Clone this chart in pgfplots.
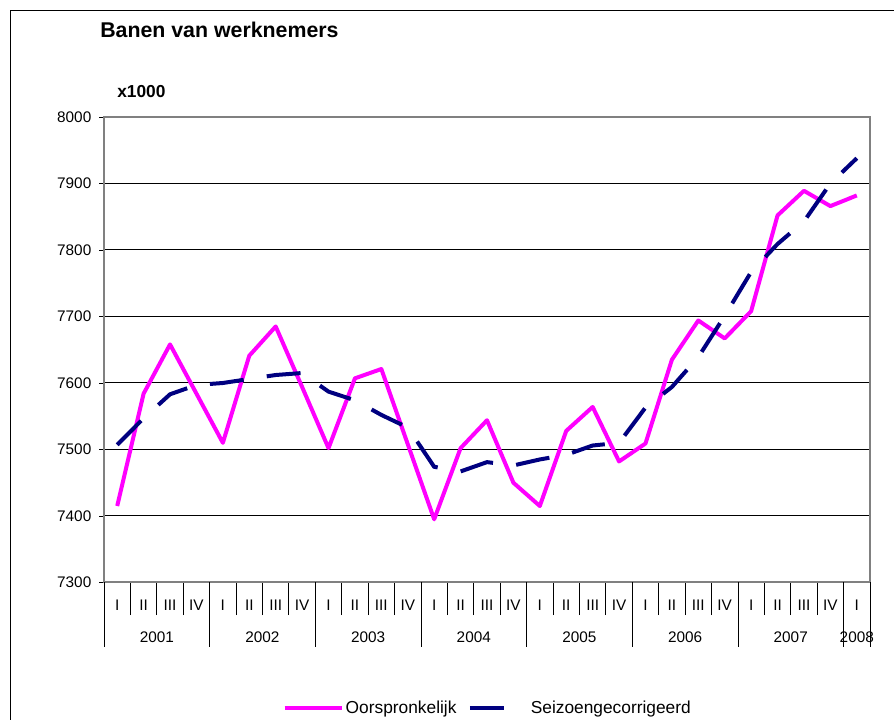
\documentclass[border=0pt]{standalone}
\usepackage{fontspec}
\setmainfont{Liberation Sans}
\usepackage{pgfplots}
\usepackage{pgfplotstable}
\pgfplotsset{compat=1.18}
\definecolor{pinkline}{HTML}{FF00FF}
\definecolor{navyline}{HTML}{000080}
\definecolor{framegray}{HTML}{808080}

\pgfplotstableread{
idx orig seas
0 7415 7507
1 7584 7547
2 7658 7583
3 7584 7597
4 7510 7600
5 7641 7606
6 7685 7612
7 7594 7615
8 7502 7587
9 7607 7574
10 7621 7552
11 7508 7533
12 7395 7474
13 7502 7467
14 7544 7481
15 7450 7476
16 7415 7485
17 7528 7492
18 7564 7506
19 7482 7510
20 7509 7563
21 7635 7594
22 7694 7639
23 7667 7701
24 7708 7767
25 7852 7809
26 7889 7843
27 7866 7900
28 7882 7938
}\datatable

\begin{document}
\begin{tikzpicture}
\useasboundingbox (0pt,0pt) rectangle (670.5pt,540pt);
\begin{scope}[x=0.75pt,y=0.75pt]
\draw[black, line width=0.75pt] (10,-10) -- (10,709) -- (910,709);
\node[anchor=west, font=\bfseries\fontsize{16}{19}\selectfont, inner sep=0pt] at (100,690) {Banen van werknemers};
\node[anchor=west, font=\bfseries\fontsize{13}{15}\selectfont, inner sep=0pt] at (117,628.5) {x1000};
\end{scope}
\begin{axis}[
  at={(78pt,103.125pt)}, anchor=south west, scale only axis,
  width=574.5pt, height=349.125pt,
  xmin=-0.5, xmax=28.5, ymin=7300, ymax=8000,
  clip=false,
  ytick={7300,7400,...,8000},
  ymajorgrids, grid style={black, line width=0.75pt},
  axis line style={framegray, line width=1.5pt},
  tick align=outside,
  xtick pos=bottom, ytick pos=left,
  major tick length=3.75pt,
  minor tick length=24.4pt,
  tick style={black, line width=0.6pt},
  every major x tick/.append style={draw=none},
  xtick={0,...,28},
  xticklabels={I,II,III,IV,I,II,III,IV,I,II,III,IV,I,II,III,IV,I,II,III,IV,I,II,III,IV,I,II,III,IV,I},
  minor xtick={-0.5,0.5,...,28.5},
  xticklabel style={anchor=center, yshift=-13pt},
  yticklabel style={xshift=-2.25pt},
  tick label style={font=\fontsize{11.5}{13}\selectfont},
  /pgf/number format/assume math mode=true,
  /pgf/number format/1000 sep={},
  legend style={at={(0.501,-0.2696)}, anchor=center, draw=none, fill=none,
    legend columns=2, font=\fontsize{13}{15}\selectfont,
    /tikz/every even column/.append style={column sep=7pt},
    nodes={inner sep=1.5pt}},
  legend image code/.code={\draw[#1] (0pt,0pt) -- (42.75pt,0pt);},
]
\addplot[pinkline, line width=3pt, line join=round] table[x=idx, y=orig] {\datatable};
\addlegendentry{Oorspronkelijk}
\addplot[navyline, line width=3pt, dash pattern=on 25.5pt off 17.5pt] table[x=idx, y=seas] {\datatable};
\addlegendentry{Seizoengecorrigeerd}
\pgfplotsinvokeforeach{-0.5,3.5,7.5,11.5,15.5,19.5,23.5,27.5,28.5}{
  \draw[black, line width=0.6pt] (axis cs:#1,7300) -- ++(0pt,-48.4pt);
}
\pgfplotsinvokeforeach{2001,2002,2003,2004,2005,2006,2007}{
  \node[font=\fontsize{11.5}{13}\selectfont] at (axis cs:{(#1-2001)*4+1.5},7300) [yshift=-40.9pt] {#1};
}
\node[font=\fontsize{11.5}{13}\selectfont] at (axis cs:28,7300) [yshift=-40.9pt] {2008};
\end{axis}
\end{tikzpicture}
\end{document}
